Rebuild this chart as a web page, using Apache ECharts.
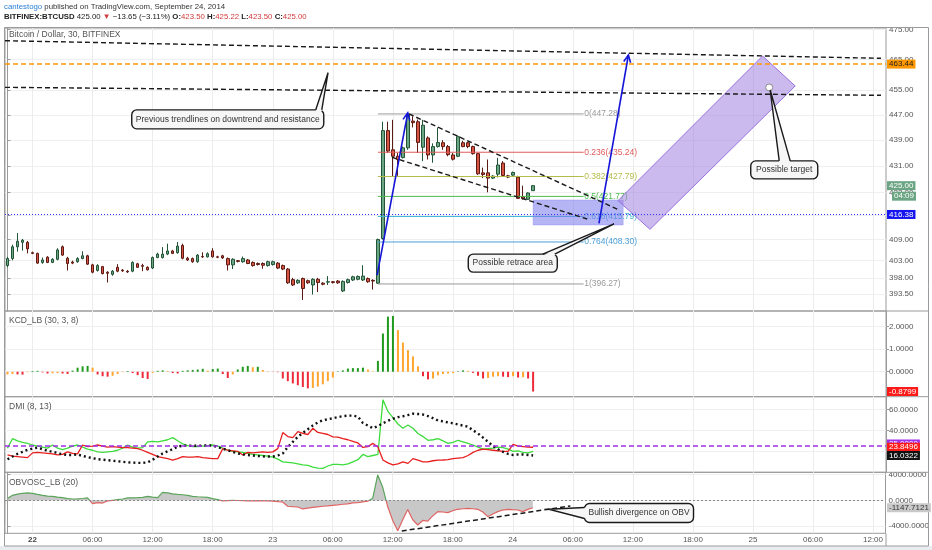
<!DOCTYPE html>
<html><head><meta charset="utf-8">
<script src="https://cdn.jsdelivr.net/npm/echarts@6/dist/echarts.min.js"></script>
<style>html,body{margin:0;padding:0;background:#fff}#c{width:932px;height:550px}</style>
</head><body><div id="c"></div>
<script>
// ---------- time slots (30-minute candles, first slot 21 Sep 21:30) ----------
const START_DAY = 21, START_MIN = 21 * 60 + 30, SLOT_COUNT = 176;
const timeSlots = [];
for (let i = 0; i < SLOT_COUNT; i++) {
  const t = START_MIN + 30 * i, d = START_DAY + Math.floor(t / 1440), m = t % 1440;
  timeSlots.push(d + ' ' + String(Math.floor(m / 60)).padStart(2, '0') + ':' + String(m % 60).padStart(2, '0'));
}

// ---------- candles [open, close, low, high] ----------
const candles = [
[401.5,403.5,401.0,404.0],[403.5,406.9,403.0,407.5],[406.9,408.5,405.5,410.9],[408.2,408.8,405.8,409.2],[408.2,406.3,405.0,408.6],
[405.2,405.0,404.8,405.5],[405.0,402.2,402.0,405.2],[402.4,403.1,402.0,403.8],[403.9,402.4,402.2,404.2],[402.4,403.3,402.2,403.6],
[403.3,406.0,403.0,406.5],[406.9,404.5,404.3,407.3],[403.6,402.1,400.1,404.0],[402.5,402.2,401.9,402.9],[402.6,403.5,402.3,403.9],
[403.5,404.3,403.3,405.6],[404.3,401.9,401.7,404.6],[401.7,399.6,399.3,402.0],[400.1,401.5,399.8,401.9],[401.2,399.2,399.0,401.4],
[399.6,399.3,396.7,399.9],[399.0,399.9,398.6,400.2],[401.0,399.9,399.6,401.9],[400.2,400.0,399.7,400.5],[399.9,399.7,399.4,400.2],
[399.9,402.4,399.6,402.7],[402.0,401.0,400.8,402.3],[401.5,401.3,399.9,402.0],[401.0,400.3,400.1,401.3],[400.8,403.8,400.5,404.1],
[403.8,404.8,403.6,405.2],[403.8,404.8,403.5,406.8],[404.8,405.7,404.5,407.8],[405.7,405.0,404.8,406.0],[405.2,407.1,404.9,408.3],
[407.3,403.6,403.3,407.8],[403.6,403.1,402.8,404.0],[403.5,402.6,402.3,403.8],[402.6,404.5,402.3,404.8],[404.1,404.0,403.7,405.3],
[404.0,404.9,403.8,405.3],[405.7,404.0,403.8,406.5],[404.0,403.9,403.6,404.3],[404.3,403.7,403.4,404.6],[403.5,401.7,400.1,403.8],
[401.7,403.3,400.5,403.6],[402.9,402.7,402.4,403.1],[402.6,403.5,402.3,404.1],[403.1,402.1,401.9,403.4],[402.4,401.5,401.2,402.7],
[402.1,401.8,401.5,402.4],[402.1,401.6,400.6,402.4],[401.5,402.6,401.2,402.9],[401.8,402.6,401.5,402.9],[402.2,400.8,400.5,402.5],
[401.5,400.5,400.2,401.8],[400.5,396.6,396.3,400.8],[397.5,396.0,395.7,398.0],[396.6,397.3,396.3,397.6],[397.8,395.0,391.8,398.1],
[397.2,396.6,396.3,397.5],[396.0,397.6,393.3,397.9],[397.6,396.7,394.0,398.0],[396.5,396.2,395.9,396.8],[396.8,396.9,396.0,398.5],
[396.9,396.7,396.4,397.1],[397.1,396.6,396.3,397.4],[394.3,397.0,394.0,397.3],[396.7,397.5,396.4,397.8],[397.4,398.3,397.1,398.6],
[397.6,398.4,397.3,398.7],[397.4,398.5,397.1,401.6],[397.8,396.9,396.6,398.1],[397.3,397.1,394.7,397.6],[396.5,409.0,396.27,409.3],
[409.3,442.0,409.0,444.8],[442.0,435.6,435.0,444.8],[436.0,434.0,427.7,445.4],[434.0,433.0,428.0,435.0],[433.6,436.6,433.3,437.0],
[436.6,447.0,436.0,447.28],[445.0,444.5,443.0,446.5],[444.8,438.3,435.0,445.5],[436.8,443.7,432.5,445.4],[439.7,434.4,433.0,440.2],
[434.4,437.0,432.0,438.0],[437.0,438.3,436.7,443.0],[438.2,437.0,436.0,439.0],[437.0,434.5,434.0,437.5],[434.4,433.1,432.7,435.0],
[434.0,440.1,433.7,440.5],[438.2,437.0,436.8,438.8],[438.2,437.0,436.5,438.5],[437.0,434.8,434.5,437.3],[434.8,428.6,428.3,435.0],
[428.9,428.4,427.3,430.5],[428.9,427.3,423.0,433.0],[427.3,427.9,427.0,428.2],[428.5,431.3,427.5,433.5],[431.9,428.1,427.8,432.5],
[428.0,427.6,427.3,428.3],[428.2,429.0,428.0,429.3],[427.6,421.2,421.0,428.0],[421.7,421.2,420.8,425.0],[420.9,422.8,420.7,423.0],
[423.5,425.0,423.5,425.22]
];

// ---------- indicators ----------
const kcdHist = [
-0.12,-0.10,-0.12,-0.13,-0.02,0.03,0.04,-0.03,-0.08,-0.07,
-0.06,-0.08,-0.10,0.05,0.18,0.24,0.26,0.18,-0.12,-0.20,
-0.22,-0.18,-0.10,-0.02,0.03,-0.06,-0.15,-0.28,-0.32,-0.05,
0.04,0.06,0.03,-0.06,-0.08,0.04,0.06,0.08,0.10,0.13,
0.05,0.12,0.14,-0.10,-0.28,-0.12,0.10,0.22,0.26,0.20,
0.22,0.08,0.02,-0.01,-0.02,-0.30,-0.42,-0.52,-0.60,-0.68,
-0.74,-0.72,-0.66,-0.56,-0.42,-0.26,0.02,0.06,0.14,0.16,
0.16,0.18,0.10,0.02,0.48,1.70,2.45,2.48,1.85,1.30,
0.96,0.68,0.24,-0.20,-0.34,-0.30,-0.16,-0.10,-0.08,-0.06,
0.02,0.06,0.04,-0.05,-0.18,-0.30,-0.28,-0.22,-0.20,-0.22,
-0.24,-0.20,-0.26,-0.24,-0.30,-0.8799
];
const dmiPlus = [
23,32,30,28.5,27.5,26,25,24,23,26,
23,21.5,23,25,26,24,22,21,19.5,19,
19.5,20,21,23,26,24,23,23.5,29,29.5,
29,30,31,33,30,27,25.5,24.5,24.5,25,
25.5,26,25,23,21,20,19.5,19,18,17,
16.5,16,15.5,14.5,12.5,10,9.5,9,8,7,
6.5,5,4,3.8,6,7.5,7.5,7,8,10,
12,17,15,16,17,69,58,52,46,42,
45,42,37,34,30.5,31,32,30,27.5,28.5,
30.5,29,27.5,26,24,22,22.5,23,24,23.5,
22,20,20.5,19,18.5,20
];
const dmiMinus = [
16.5,15.5,15,14.5,14,18.5,19,18.5,18,17.5,
16.5,17,19.5,18,17.5,26,24.5,25,26,25,
24,24.5,24,23.5,23.5,23,22.5,21,19,17,
15,14,13,11.7,13,15,14.5,14.5,15,14,
13.5,13,13,22.5,21,20.5,20,16.5,19,18.5,
19,19.5,19,19.5,22.5,37.8,34,33,38.7,37,
36,41.9,38,37,36,33.8,33.5,32,31,29.5,
28,23.7,24.5,27.5,24,11.7,9,7,8,10,
8.5,13,11.5,10,10,11,11.5,11.7,12,13,
13.5,14,16,19,21,22,21.5,21,20.5,20,
20,26.5,25,24.5,24,23.8496
];
const dmiAdx = [
12.4,15,17.5,19.5,21.5,22.5,23.5,22,20.5,19.5,
18.5,17,16.5,16.5,17,15.5,14.5,13.5,12.5,12,
11.5,11,10.5,10,9.5,9.2,9,9,9.5,12,
15,18,20,22,24.5,25.3,25.3,25.3,25.3,25.5,
25.5,25.5,24,22.5,21,19.5,18,17,16.5,16,
15.5,15.2,15,15,16,18,24,29,33.8,37.5,
41,44.5,47.5,49.5,50.5,51.5,52.5,53.5,54,54,
53,47,44.5,42,44,46.7,49,51,52.5,53.4,
54.5,55.9,55.5,55,53.5,51.5,49.3,48.5,47.5,46.7,
45.5,44.5,43.5,40,37,33,29,25,22,19.5,
17.5,16.5,17,17,16.5,16.0322
];
const obvOsc = [
260,770,950,1080,1130,1077,900,770,650,615,
500,410,260,200,230,280,360,-510,-360,-420,
-100,0,100,200,360,380,410,450,615,500,
410,1230,1150,1000,920,850,750,615,550,510,
450,260,100,-100,-50,0,-30,-60,-100,-80,
-60,-100,-100,-120,-200,-260,-920,-980,-1030,-1330,
-1200,-1100,-1000,-920,-850,-770,-700,-610,-560,-400,
-380,-250,-150,300,3900,2000,-1000,-3100,-4700,-3000,
-1400,-3000,-3800,-3100,-3200,-2400,-1750,-1800,-1900,-1600,
-1385,-1300,-1230,-1300,-1385,-1800,-2520,-2100,-1750,-1500,
-1385,-1450,-1490,-1750,-1400,-1147.7121
];

// ---------- axis tick labels ----------
const priceTicks = [475, 465, 455, 447, 439, 431, 423, 416, 409, 403, 398, 393.5];
const kcdTicks = [2, 1, 0];
const dmiTicks = [60, 40, 20];
const obvTicks = [4000, 0, -4000];

// ---------- drawings ----------
const fibLevels = ['0', '0.236', '0.382', '0.5', '0.618', '0.764', '1'];
const fibPrices = [447.28, 435.24, 427.79, 421.77, 415.79, 408.30, 396.27];
const resistanceLevel = 463.44;
const lastAlertLevel = 416.38;
const trendLines = [
  [-0.5, 471.22, 174.5, 465.35],
  [-0.5, 455.83, 174.5, 453.25],
  [80.2, 447.28, 122.2, 417.71],
  [76.8, 433.68, 115.8, 415.04]
];
const arrows = [
  [73.84, 398.8, 79.96, 447.6],
  [118.16, 413.77, 124.04, 466.45]
];
const zones = [
  [105, 420.7, 123, 420.7, 123, 413.27, 105, 413.27],
  [121.96, 420.49, 128.36, 412.0, 157.36, 456.27, 150.84, 466.11]
];
const targetPoint = [152.16, 455.8];
const obvTrend = [[78.8, -4723, 112.5, -877]];

const FONT = '"Liberation Sans", Arial, sans-serif';
const fibColors = ['#9a9a9a', '#e05a5a', '#b4bd4a', '#4cbb4c', '#3fb6d6', '#4a9fd6', '#9a9a9a'];

function slotInfo(i) { const t = START_MIN + 30 * i; return { day: START_DAY + Math.floor(t / 1440), h: Math.floor((t % 1440) / 60), m: t % 60 }; }
const isMajor = i => { const s = slotInfo(i); return s.m === 0 && s.h % 6 === 0; };
const majorLabel = i => { const s = slotInfo(i); return s.h === 0 ? (s.day === 22 ? '{b|22}' : String(s.day)) : String(s.h).padStart(2, '0') + ':00'; };

const grids = [
  { left: 5, right: 46, top: 28, height: 283 },
  { left: 5, right: 46, top: 311, height: 85.7 },
  { left: 5, right: 46, top: 396.7, height: 75.6 },
  { left: 5, right: 46, top: 472.3, height: 61 }
].map(g => Object.assign({ show: true, borderColor: '#9a9a9a', borderWidth: 1, containLabel: false }, g));

function catAxis(g, showLabel) {
  return {
    type: 'category', gridIndex: g, data: timeSlots, boundaryGap: true,
    axisLine: { show: false }, axisTick: { show: false, alignWithLabel: true },
    axisLabel: { show: showLabel, interval: (i) => isMajor(i), formatter: (v, i) => majorLabel(i),
      fontSize: 8, color: '#555', margin: 2, fontFamily: FONT, rich: { b: { fontWeight: 'bold', fontSize: 8, color: '#444', fontFamily: FONT } } },
    splitLine: { show: true, interval: (i) => isMajor(i), alignWithLabel: true, lineStyle: { color: '#ececec', width: 1 } }
  };
}
function valAxisX(g) { return { type: 'value', gridIndex: g, min: -0.5, max: SLOT_COUNT - 0.5, show: false, position: 'top' }; }
function yAxisCfg(g, type, min, max, ticks, fmt) {
  return {
    type, gridIndex: g, position: 'right', min, max, scale: true,
    axisLine: { show: true, lineStyle: { color: '#9a9a9a' } },
    axisTick: { show: true, length: 3, customValues: ticks, lineStyle: { color: '#9a9a9a' } },
    axisLabel: { customValues: ticks, formatter: fmt, fontSize: 8, color: '#555', margin: 3, fontFamily: FONT },
    splitLine: { show: true, lineStyle: { color: '#efefef' } }
  };
}

const lineRender = (stroke, width, dash) => (params, api) => {
  const a = api.coord([api.value(0), api.value(1)]);
  const b = api.coord([api.value(2), api.value(3)]);
  return { type: 'line', shape: { x1: a[0], y1: a[1], x2: b[0], y2: b[1] }, style: { stroke, lineWidth: width, lineDash: dash } };
};

const kcdData = kcdHist.map((v, i) => {
  const p = i > 0 ? kcdHist[i - 1] : v;
  let c;
  if (v >= 0) c = v >= p ? '#1f9a1f' : '#ffa630'; else c = v < p ? '#ee2a3a' : '#ffa630';
  return { value: v, itemStyle: { color: c } };
});

const option = {
  animation: false,
  backgroundColor: '#ffffff',
  grid: grids,
  xAxis: [catAxis(0, false), catAxis(1, false), catAxis(2, false), catAxis(3, true), valAxisX(0), valAxisX(3)],
  yAxis: [
    yAxisCfg(0, 'log', 388.72, 475.5, priceTicks, v => v.toFixed(2)),
    yAxisCfg(1, 'value', -1.11, 2.7, kcdTicks, v => v.toFixed(4)),
    yAxisCfg(2, 'value', 0, 72, dmiTicks, v => v.toFixed(4)),
    yAxisCfg(3, 'value', -5080, 4310, obvTicks, v => v.toFixed(4))
  ],
  visualMap: [{ type: 'piecewise', show: false, seriesIndex: 6, dimension: 1,
    pieces: [{ min: -100000, max: 0, color: '#e06464' }, { min: 0, max: 100000, color: '#5aa55a' }] }],
  series: [
    { type: 'candlestick', xAxisIndex: 0, yAxisIndex: 0, data: candles, barWidth: 3,
      itemStyle: { color: '#6ba583', color0: '#d75442', borderColor: '#225437', borderColor0: '#5b1a13', borderWidth: 1 },
      markLine: { silent: true, symbol: ['none', 'none'], label: { show: false },
        data: [
          { yAxis: resistanceLevel, lineStyle: { color: '#ff9800', type: [5, 3], width: 1.5 } },
          { yAxis: lastAlertLevel, lineStyle: { color: '#3030ff', type: [1, 2], width: 1 } }
        ] } },
    { type: 'bar', xAxisIndex: 1, yAxisIndex: 1, data: kcdData, barWidth: 2 },
    { type: 'line', xAxisIndex: 2, yAxisIndex: 2, data: dmiPlus, symbol: 'none', lineStyle: { color: '#3ddc3d', width: 1.3 },
      markLine: { silent: true, symbol: ['none', 'none'], label: { show: false },
        data: [{ yAxis: 25, lineStyle: { color: '#a030e8', type: [5, 3], width: 1.5 } }] } },
    { type: 'line', xAxisIndex: 2, yAxisIndex: 2, data: dmiMinus, symbol: 'none', lineStyle: { color: '#e81e1e', width: 1.3 } },
    { type: 'line', xAxisIndex: 2, yAxisIndex: 2, data: dmiAdx, symbol: 'none', lineStyle: { color: '#111', width: 2.4, type: [2, 3] } },
    { type: 'line', xAxisIndex: 3, yAxisIndex: 3, data: obvOsc, symbol: 'none', lineStyle: { opacity: 0 },
      areaStyle: { color: '#c8c8c8', opacity: 1 } },
    { type: 'line', xAxisIndex: 3, yAxisIndex: 3, data: obvOsc, symbol: 'none', lineStyle: { width: 1.2 },
      markLine: { silent: true, symbol: ['none', 'none'], label: { show: false },
        data: [{ yAxis: 0, lineStyle: { color: '#8a8a8a', type: [2, 2], width: 1 } }] } },
    { type: 'custom', xAxisIndex: 4, yAxisIndex: 0, z: 3, data: fibPrices.map((p, i) => [74, p, 115.1, p, i]),
      renderItem: (params, api) => {
        const i = api.value(4);
        const a = api.coord([api.value(0), api.value(1)]);
        const b = api.coord([api.value(2), api.value(3)]);
        return { type: 'group', children: [
          { type: 'line', shape: { x1: a[0], y1: a[1], x2: b[0], y2: b[1] }, style: { stroke: fibColors[i], lineWidth: 1 } },
          { type: 'text', x: b[0] + 0.5, y: b[1], style: { text: fibLevels[i] + '(' + fibPrices[i].toFixed(2) + ')',
            fill: fibColors[i], fontSize: 8.5, fontFamily: FONT, verticalAlign: 'middle', align: 'left' } }
        ] };
      } },
    { type: 'custom', xAxisIndex: 4, yAxisIndex: 0, z: 4, data: zones,
      renderItem: (params, api) => {
        const pts = [0, 2, 4, 6].map(k => api.coord([api.value(k), api.value(k + 1)]));
        const purple = params.dataIndex === 1;
        return { type: 'polygon', shape: { points: pts },
          style: purple ? { fill: 'rgba(160,130,222,0.55)', stroke: '#9a70e0', lineWidth: 1 }
                        : { fill: 'rgba(120,120,238,0.55)', stroke: 'rgba(120,120,238,0.3)', lineWidth: 1 } };
      } },
    { type: 'custom', xAxisIndex: 4, yAxisIndex: 0, z: 5, data: trendLines, renderItem: lineRender('#1a1a1a', 1.4, [5, 3]) },
    { type: 'custom', xAxisIndex: 4, yAxisIndex: 0, z: 6, data: arrows,
      renderItem: (params, api) => {
        const a = api.coord([api.value(0), api.value(1)]);
        const b = api.coord([api.value(2), api.value(3)]);
        const ang = Math.atan2(a[1] - b[1], a[0] - b[0]);
        const L = 8, s = 0.45;
        const h1 = [b[0] + L * Math.cos(ang + s), b[1] + L * Math.sin(ang + s)];
        const h2 = [b[0] + L * Math.cos(ang - s), b[1] + L * Math.sin(ang - s)];
        return { type: 'group', children: [
          { type: 'line', shape: { x1: a[0], y1: a[1], x2: b[0], y2: b[1] }, style: { stroke: '#1515d8', lineWidth: 1.6 } },
          { type: 'polyline', shape: { points: [h1, b, h2] }, style: { stroke: '#1515d8', lineWidth: 1.6, fill: null } }
        ] };
      } },
    { type: 'custom', xAxisIndex: 4, yAxisIndex: 0, z: 7, data: [targetPoint],
      renderItem: (params, api) => {
        const a = api.coord([api.value(0), api.value(1)]);
        return { type: 'circle', shape: { cx: a[0], cy: a[1], r: 3.5 }, style: { fill: '#ffffff', stroke: '#8a8a8a', lineWidth: 1 } };
      } },
    { type: 'custom', xAxisIndex: 5, yAxisIndex: 3, z: 5, data: obvTrend, renderItem: lineRender('#1a1a1a', 1.5, [5, 3]) }
  ]
};

const chart = echarts.init(document.getElementById('c'));
chart.setOption(option);

// ---------- annotations (positions from data coordinates) ----------
const px = (ax, v) => chart.convertToPixel({ xAxisIndex: ax }, v);
const py = (ay, v) => chart.convertToPixel({ yAxisIndex: ay }, v);

const callouts = [
  { text: 'Previous trendlines on downtrend and resistance', xa: 4, ya: 0, c: [44.0, 445.56], w: 192, h: 19, tip: [64.04, 460.6], side: 'top', base: [88, 94] },
  { text: 'Possible retrace area', xa: 4, ya: 0, c: [100.94, 402.2], w: 89, h: 18, tip: [121.16, 413.6], side: 'top', base: [30, 42] },
  { text: 'Possible target', xa: 4, ya: 0, c: [155.17, 429.8], w: 67, h: 18, tip: [152.36, 454.96], side: 'top', base: [-5, 6] },
  { text: 'Bullish divergence on OBV', xa: 5, ya: 3, c: [126.23, -1954], w: 109, h: 19, tip: [108.16, -1385], side: 'left', base: [-5.5, 5.5] }
];

const g = [];
g.push({ type: 'rect', z: -10, shape: { x: 0, y: 546, width: 932, height: 4 }, style: { fill: '#e9edf1' } });
g.push({ type: 'rect', z: 40, shape: { x: 4.5, y: 27.5, width: 924, height: 518.5 }, style: { fill: null, stroke: '#9a9a9a', lineWidth: 1 } });
[311, 396.7, 472.3].forEach(y => g.push({ type: 'line', z: 40, shape: { x1: 886, y1: y, x2: 928.5, y2: y }, style: { stroke: '#9a9a9a', lineWidth: 1 } }));
g.push({ type: 'line', z: 40, shape: { x1: 886, y1: 533.3, x2: 886, y2: 546 }, style: { stroke: '#9a9a9a', lineWidth: 1 } });

const HS = 7.8;
g.push({ type: 'text', z: 50, x: 4, y: 3, style: { text: '{u|cantestogo} published on TradingView.com, September 24, 2014',
  fill: '#333', fontSize: HS, fontFamily: FONT, rich: { u: { fill: '#2b7fd6', fontSize: HS, fontFamily: FONT } } } });
g.push({ type: 'text', z: 50, x: 4, y: 13, style: {
  text: '{b|BITFINEX:BTCUSD} 425.00 {r|▼} \u221213.65 (\u22123.11%) {b|O:}{r|423.50} {b|H:}{r|425.22} {b|L:}{r|423.50} {b|C:}{r|425.00}',
  fill: '#222', fontSize: HS, fontFamily: FONT,
  rich: { b: { fontWeight: 'bold', fill: '#222', fontSize: HS, fontFamily: FONT }, r: { fill: '#d23b3b', fontSize: HS, fontFamily: FONT } } } });

[['Bitcoin / Dollar, 30, BITFINEX', 35], ['KCD_LB (30, 3, 8)', 321], ['DMI (8, 13)', 407], ['OBVOSC_LB (20)', 483]].forEach(([t, y]) =>
  g.push({ type: 'text', z: 50, x: 9, y, style: { text: t, fill: '#555', fontSize: 8.5, fontFamily: FONT, verticalAlign: 'middle' } }));

function tag(ay, v, txt, bg, color, dx, dy) {
  g.push({ type: 'text', z: 60, x: 887 + (dx || 0), y: py(ay, v) + (dy || 0), style: { text: txt, fill: color, backgroundColor: bg,
    padding: [1, 2, 0, 2], fontSize: 8, fontFamily: FONT, verticalAlign: 'middle', align: 'left' } });
}
tag(0, resistanceLevel, resistanceLevel.toFixed(2), '#ff9800', '#222');
tag(0, candles[candles.length - 1][1], candles[candles.length - 1][1].toFixed(2), '#6ba583', '#fff');
tag(0, candles[candles.length - 1][1], '04:09', '#6ba583', '#fff', 5, 10.5);
tag(0, lastAlertLevel, lastAlertLevel.toFixed(2), '#1515f0', '#fff');
tag(1, kcdHist[kcdHist.length - 1], kcdHist[kcdHist.length - 1].toFixed(4), '#ff1a1a', '#fff');
tag(2, 25, '25.0000', '#a030e8', '#fff', 0, -2);
tag(2, dmiPlus[dmiPlus.length - 1], dmiPlus[dmiPlus.length - 1].toFixed(4), '#2fc42f', '#fff');
tag(2, dmiMinus[dmiMinus.length - 1], dmiMinus[dmiMinus.length - 1].toFixed(4), '#ff1a1a', '#fff');
tag(2, dmiAdx[dmiAdx.length - 1], dmiAdx[dmiAdx.length - 1].toFixed(4), '#111', '#fff');
tag(3, obvOsc[obvOsc.length - 1], obvOsc[obvOsc.length - 1].toFixed(4), '#c9c9c9', '#333');

callouts.forEach(c => {
  const cx = px(c.xa, c.c[0]), cy = py(c.ya, c.c[1]);
  const tx = px(c.xa, c.tip[0]), ty = py(c.ya, c.tip[1]);
  const x0 = cx - c.w / 2, y0 = cy - c.h / 2;
  let b1, b2, b1i, b2i;
  if (c.side === 'top') { b1 = [cx + c.base[0], y0]; b2 = [cx + c.base[1], y0]; b1i = [b1[0], y0 + 1.5]; b2i = [b2[0], y0 + 1.5]; }
  else { b1 = [x0, cy + c.base[0]]; b2 = [x0, cy + c.base[1]]; b1i = [x0 + 1.5, b1[1]]; b2i = [x0 + 1.5, b2[1]]; }
  g.push({ type: 'rect', z: 70, shape: { x: x0, y: y0, width: c.w, height: c.h, r: 5 }, style: { fill: '#f6f6f6', stroke: '#1a1a1a', lineWidth: 1.4 } });
  g.push({ type: 'polygon', z: 71, shape: { points: [b1i, [tx, ty], b2i] }, style: { fill: '#f6f6f6' } });
  g.push({ type: 'polyline', z: 72, shape: { points: [b1, [tx, ty], b2] }, style: { stroke: '#1a1a1a', lineWidth: 1.4, fill: null } });
  g.push({ type: 'text', z: 73, x: cx, y: cy, style: { text: c.text, fill: '#333', fontSize: 8.5, fontFamily: FONT, align: 'center', verticalAlign: 'middle' } });
});

chart.setOption({ graphic: { elements: g } });
</script>
</body></html>
